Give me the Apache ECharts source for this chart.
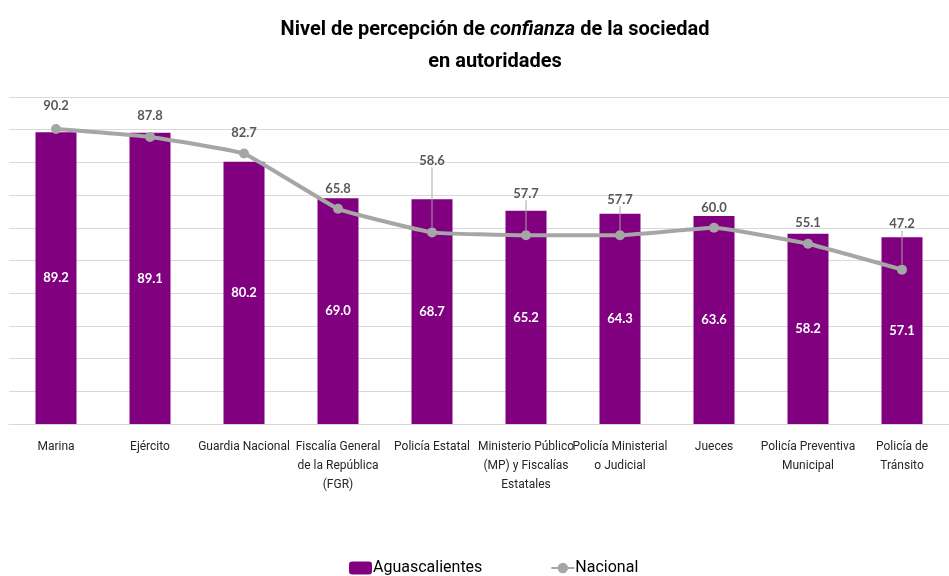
<!DOCTYPE html>
<html lang="es">
  <head>
    <meta charset="UTF-8" />
    <title>Confianza en autoridades</title>
    <style>
      html, body { margin: 0; padding: 0; background: #fff; }
      #main { width: 949px; height: 576px; }
    </style>
  </head>
  <body>
    <div id="main"></div>
    <script src="https://cdn.jsdelivr.net/npm/echarts@6/dist/echarts.min.js"></script>
    <script>
      const myChart = echarts.init(document.getElementById('main'))

      // categorías
      var categories = [
        'Marina',
        'Ejército',
        'Guardia Nacional',
        'Fiscalía General\nde la República\n(FGR)',
        'Policía Estatal',
        'Ministerio Público\n(MP) y Fiscalías\nEstatales',
        'Policía Ministerial\no Judicial',
        'Jueces',
        'Policía Preventiva\nMunicipal',
        'Policía de\nTránsito'
      ]
      var aguascalientes = [89.2, 89.1, 80.2, 69.0, 68.7, 65.2, 64.3, 63.6, 58.2, 57.1]
      var nacional = [90.2, 87.8, 82.7, 65.8, 58.6, 57.7, 57.7, 60.0, 55.1, 47.2]

      // desplazamiento de etiquetas de la línea (como en Excel)
      var labelDy = [0, 2, 3, 3, -48, -18, -12, 4, 2, -22]
      var leader = [false, false, false, false, true, true, true, false, false, true]

      var narrow = 'Roboto, sans-serif'

      var option = {
        backgroundColor: '#ffffff',
        animation: false,
        title: {
          left: 490,
          textAlign: 'center',
          top: 9,
          text: '{a|Nivel de percepción de }{b|confianza}{a| de la sociedad}\n{a|en autoridades}',
          textStyle: {
            rich: {
              a: { fontFamily: narrow, fontWeight: 'bold', fontSize: 20, color: '#000', lineHeight: 32 },
              b: { fontFamily: narrow, fontWeight: 'bold', fontStyle: 'italic', fontSize: 20, color: '#000', lineHeight: 32 }
            }
          }
        },
        legend: {
          top: 555,
          left: 344,
          itemGap: 68,
          itemWidth: 23,
          itemHeight: 13,
          textStyle: { fontFamily: narrow, fontSize: 16, color: '#000', padding: [0, 0, 0, -4] },
          data: ['Aguascalientes', 'Nacional']
        },
        grid: {
          left: 9,
          right: -14,
          top: 97,
          bottom: 152
        },
        xAxis: {
          type: 'category',
          data: categories,
          axisLine: { lineStyle: { color: '#d9d9d9', width: 1 } },
          axisTick: { show: false },
          axisLabel: {
            interval: 0,
            margin: 13,
            fontFamily: narrow,
            fontSize: 12,
            lineHeight: 19,
            color: '#262626'
          }
        },
        yAxis: {
          type: 'value',
          min: 0,
          max: 100,
          interval: 10,
          axisLabel: { show: false },
          axisLine: { show: false },
          axisTick: { show: false },
          splitLine: { lineStyle: { color: '#d9d9d9', width: 1 } }
        },
        series: [
          {
            name: 'Aguascalientes',
            type: 'bar',
            data: aguascalientes,
            barWidth: 41,
            itemStyle: { color: '#800080' },
            label: {
              show: true,
              position: 'inside',
              color: '#ffffff',
              fontFamily: 'Lato, sans-serif',
              fontWeight: 'bold',
              fontSize: 13,
              formatter: function (p) { return p.value.toFixed(1) }
            }
          },
          {
            name: 'Nacional',
            type: 'line',
            smooth: 0.1,
            data: nacional.map(function (v, i) {
              return { value: v, labelLine: { show: leader[i] } }
            }),
            symbol: 'circle',
            symbolSize: 10,
            lineStyle: { color: '#a6a6a6', width: 4 },
            itemStyle: { color: '#a6a6a6' },
            label: {
              show: true,
              position: 'top',
              distance: 12,
              color: '#595959',
              fontFamily: 'Lato, sans-serif',
              fontWeight: 'bold',
              fontSize: 13,
              formatter: function (p) { return p.value.toFixed(1) }
            },
            labelLine: {
              show: false,
              lineStyle: { color: '#a6a6a6', width: 1 }
            },
            labelLayout: function (params) {
              return { dy: labelDy[params.dataIndex] }
            },
            z: 3
          }
        ]
      }

      myChart.setOption(option)
    </script>
  </body>
</html>
